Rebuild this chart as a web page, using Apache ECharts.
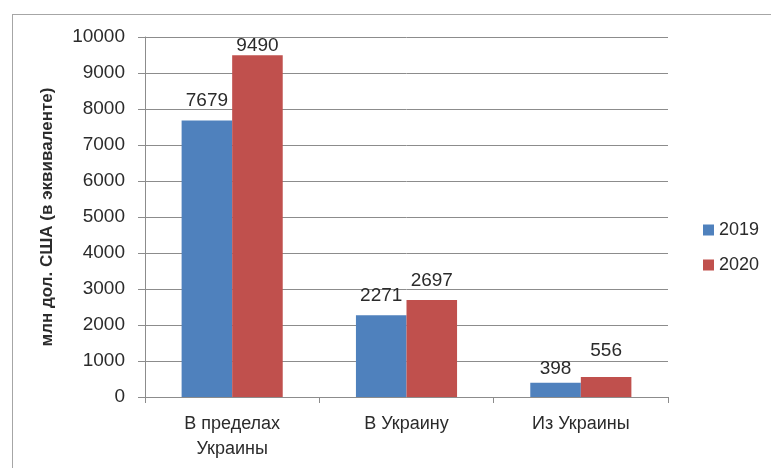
<!DOCTYPE html>
<html>
<head>
<meta charset="utf-8">
<script src="https://cdn.jsdelivr.net/npm/echarts@6/dist/echarts.min.js"></script>
<style>
  html, body { margin: 0; padding: 0; background: #fff; }
  #frame { position: absolute; left: 12px; top: 14px; width: 780px; height: 480px; border: 1px solid #a6a6a6; box-sizing: border-box; }
  #myChart { position: absolute; left: 0; top: 0; width: 771px; height: 468px; }
</style>
</head>
<body>
<div id="frame"></div>
<div id="myChart"></div>
<script>
var categories = ['В пределах\nУкраины', 'В Украину', 'Из Украины']
var values2019 = [7679, 2271, 398]
var values2020 = [9490, 2697, 556]
var seriesNames = ['2019', '2020']

var font = 'Liberation Sans, Arial, sans-serif'
var textColor = '#2b2b2b'

// в оригинале подписи стоят на разной высоте над столбцами
var labelGap2019 = [10, 10, 4]
var labelGap2020 = [0, 10, 17]

function withLabels (values, gaps) {
  return values.map(function (v, i) {
    return { value: v, label: { distance: gaps[i] } }
  })
}

var myChart = echarts.init(document.getElementById('myChart'))
var option = {
  animation: false,
  textStyle: { fontFamily: font },
  grid: {
    left: 145,
    right: 103,
    top: 37,
    bottom: 71
  },
  legend: {
    orient: 'vertical',
    left: 698,
    top: 216,
    itemWidth: 11,
    itemHeight: 11,
    itemGap: 17,
    icon: 'rect',
    textStyle: { fontSize: 18, color: textColor, fontFamily: font },
    data: seriesNames
  },
  xAxis: {
    type: 'category',
    data: categories,
    axisLine: { lineStyle: { color: '#8c8c8c' } },
    axisTick: { show: true, length: 6, lineStyle: { color: '#8c8c8c' } },
    axisLabel: {
      fontSize: 18,
      color: textColor,
      margin: 15,
      lineHeight: 25
    }
  },
  yAxis: {
    type: 'value',
    min: 0,
    max: 10000,
    interval: 1000,
    name: 'млн дол. США (в эквиваленте)',
    nameLocation: 'middle',
    nameGap: 89,
    nameTextStyle: { fontSize: 17, fontWeight: 'bold', color: textColor, fontFamily: font },
    axisLine: { show: true, lineStyle: { color: '#8c8c8c' } },
    axisTick: { show: true, length: 7, lineStyle: { color: '#8c8c8c' } },
    splitLine: { lineStyle: { color: '#8c8c8c' } },
    axisLabel: {
      fontSize: 19,
      color: textColor,
      margin: 20,
      formatter: function (v) { return String(v) }
    }
  },
  series: [
    {
      name: seriesNames[0],
      type: 'bar',
      data: withLabels(values2019, labelGap2019),
      barGap: '0%',
      barCategoryGap: '42%',
      itemStyle: { color: '#4f81bd' },
      label: { show: true, position: 'top', fontSize: 19, color: textColor }
    },
    {
      name: seriesNames[1],
      type: 'bar',
      data: withLabels(values2020, labelGap2020),
      barGap: '0%',
      barCategoryGap: '42%',
      itemStyle: { color: '#c0504d' },
      label: { show: true, position: 'top', fontSize: 19, color: textColor }
    }
  ]
}
myChart.setOption(option, true)
</script>
</body>
</html>
